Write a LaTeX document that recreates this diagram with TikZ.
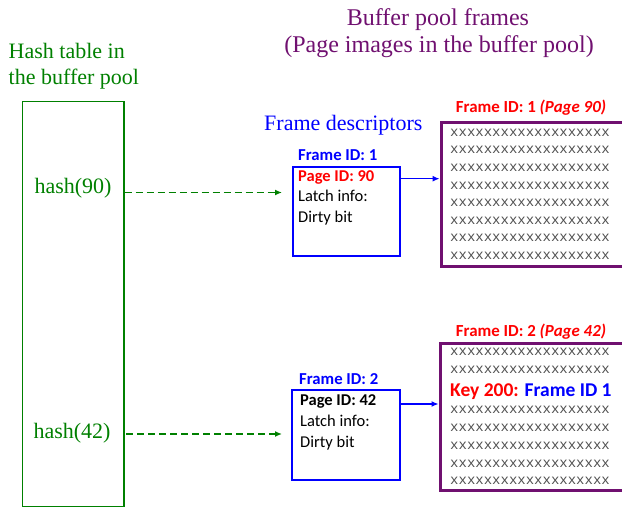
\documentclass[tikz,border=0pt]{standalone}
\usepackage{fontspec}
\setmainfont{Liberation Serif}
\newfontfamily\calib{Carlito}
\newfontfamily\cour{Liberation Mono}
\usetikzlibrary{arrows.meta}
\definecolor{hashgreen}{RGB}{0,128,0}
\definecolor{framepurple}{RGB}{112,16,112}
\definecolor{descblue}{RGB}{0,0,255}
\definecolor{keyred}{RGB}{255,0,0}
\definecolor{xgray}{RGB}{80,80,80}
\tikzset{
  serifgreen/.style={font=\fontsize{22}{26}\selectfont, text=hashgreen, inner sep=0pt},
  titletext/.style={font=\fontsize{24}{28}\selectfont, text=framepurple, inner sep=0pt, anchor=base},
  desctext/.style={font=\calib\fontsize{16.5}{20}\selectfont, inner sep=0pt, anchor=base west},
  desclabel/.style={font=\calib\bfseries\fontsize{16.7}{20}\selectfont, text=descblue, inner sep=0pt, anchor=base west},
  framelabel/.style={font=\calib\bfseries\fontsize{16.9}{20}\selectfont, text=keyred, inner sep=0pt, anchor=base},
  xrow/.style={font=\cour\fontsize{14}{16}\selectfont, text=xgray, inner sep=0pt, anchor=base west},
  descbox/.style={draw=descblue, line width=2pt},
  framebox/.style={draw=framepurple, line width=3pt},
  hashptr/.style={draw=hashgreen, line width=1.3pt, dash pattern=on 7pt off 4pt, -{Latex[length=7pt,width=6pt]}},
  frameptr/.style={draw=descblue, line width=1.2pt, -{Latex[length=7pt,width=6pt]}}
}
\begin{document}
\begin{tikzpicture}[x=1pt,y=-1pt]
\useasboundingbox (0,0) rectangle (622,508);

% titles
\node[titletext] (t1) at (438,26) {Buffer pool frames};
\node[titletext] (t2) at (439,53) {(Page images in the buffer pool)};
\node[serifgreen, anchor=base west] (h1) at (8.5,58.3) {Hash table in};
\node[serifgreen, anchor=base west] (h2) at (8.5,85) {the buffer pool};
\node[font=\fontsize{22}{26}\selectfont, text=descblue, inner sep=0pt, anchor=base west] (fd) at (264,131) {Frame descriptors};

% hash table
\draw[draw=hashgreen, line width=1.2pt] (22.5,101.5) rectangle (124,506.5);
\node[serifgreen, anchor=base] (hash90) at (73,193.5) {hash(90)};
\node[serifgreen, anchor=base] (hash42) at (72,438.5) {hash(42)};
\coordinate (hs1) at (124.5,192.5);
\coordinate (hs2) at (126,434);

% descriptor 1
\node[desclabel] (fid1) at (298,161) {Frame ID: 1};
\node[minimum width=107pt, minimum height=88.5pt, inner sep=0pt, anchor=north west, descbox] (d1) at (291.5,166.5) {};
\node[desctext, text=keyred, font=\calib\bfseries\fontsize{16.5}{20}\selectfont] (p90) at (298,181.5) {Page ID: 90};
\node[desctext] (l1) at (298,202) {Latch info:};
\node[desctext] (db1) at (298,222.6) {Dirty bit};

% descriptor 2
\node[desclabel] (fid2) at (299,384.5) {Frame ID: 2};
\node[minimum width=108pt, minimum height=90pt, inner sep=0pt, anchor=north west, descbox] (d2) at (291,389.3) {};
\node[desctext, font=\calib\bfseries\fontsize{16.5}{20}\selectfont] (p42) at (300,405.5) {Page ID: 42};
\node[desctext] (l2) at (300,426.5) {Latch info:};
\node[desctext] (db2) at (300,447) {Dirty bit};

% frame 1: open on the right
\node[framelabel] (fl1) at (531,112.5) {Frame ID: 1 \textit{(Page 90)}};
\coordinate (f1nw) at (441,122.3);
\coordinate (f1sw) at (441,266.7);
\coordinate (f1ne) at (622,122.3);
\coordinate (f1se) at (622,266.7);
\draw[framebox] (f1ne) -- (f1nw) -- (f1sw) -- (f1se);
\foreach \k in {0,...,7}
  \node[xrow] (f1x\k) at (450,136.3+17.6*\k) {xxxxxxxxxxxxxxxxxxx};

% frame 2: open on the right as well
\node[framelabel] (fl2) at (531,336) {Frame ID: 2 \textit{(Page 42)}};
\coordinate (f2nw) at (440,343.5);
\coordinate (f2sw) at (440,490);
\coordinate (f2ne) at (622,343.5);
\coordinate (f2se) at (622,490);
\draw[framebox] (f2ne) -- (f2nw) -- (f2sw) -- (f2se);
\node[xrow] (f2x0) at (450,355.7) {xxxxxxxxxxxxxxxxxxx};
\node[xrow] (f2x1) at (450,373) {xxxxxxxxxxxxxxxxxxx};
\node[inner sep=0pt, anchor=base west, font=\calib\bfseries\fontsize{19.5}{22}\selectfont] (key) at (450,396.5) {\textcolor{keyred}{Key 200:} \textcolor{descblue}{Frame ID 1}};
\foreach \k/\yy in {2/413.7,3/431.3,4/449.7,5/467,6/484.7}
  \node[xrow] (f2x\k) at (450,\yy) {xxxxxxxxxxxxxxxxxxx};

% pointers
\draw[hashptr] (hs1) -- ([xshift=-9.5pt]d1.west |- hs1);
\draw[hashptr] (hs2) -- ([xshift=-9pt]d2.west |- hs2);
\draw[frameptr] (d1.east |- 0,178.7) -- ([xshift=-1.5pt]f1nw |- 0,178.7);
\draw[frameptr] (d2.east |- 0,404) -- ([xshift=-1.5pt]f2nw |- 0,404);
\end{tikzpicture}
\end{document}
